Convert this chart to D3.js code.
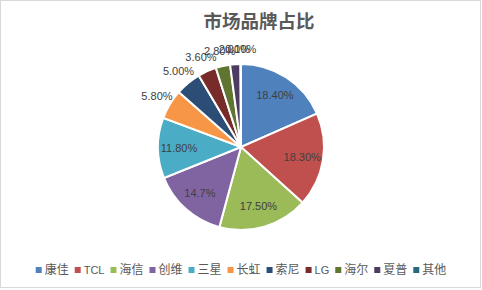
<!DOCTYPE html>
<html>
<head>
<meta charset="utf-8">
<script src="https://cdn.jsdelivr.net/npm/d3@7"></script>
<style>
  body { margin: 0; background: #fff; }
  svg { display: block; }
</style>
</head>
<body>
<div id="chart"></div>
<script>
const brands = ['康佳', 'TCL', '海信', '创维', '三星', '长虹', '索尼', 'LG', '海尔', '夏普', '其他'];
const shares = [18.4, 18.3, 17.5, 14.7, 11.8, 5.8, 5.0, 3.6, 2.8, 2.0, 0.1];
const shareLabels = ['18.40%', '18.30%', '17.50%', '14.7%', '11.80%', '5.80%', '5.00%', '3.60%', '2.80%', '2.00%', '0.10%'];
const colors = ['#4F81BD', '#C0504D', '#9BBB59', '#8064A2', '#4BACC6', '#F79646',
                '#2C4D75', '#772C2A', '#5F7530', '#4D3B62', '#276A7C'];

const width = 482, height = 290;
const cx = 241, cy = 147, radius = 83;

const svg = d3.select('#chart')
  .append('svg')
  .attr('width', width)
  .attr('height', height);

// chart frame
svg.append('rect')
  .attr('x', 0.5).attr('y', 0.5)
  .attr('width', width - 2).attr('height', height - 3)
  .attr('fill', '#fff')
  .attr('stroke', '#d9d9d9');

svg.append('text')
  .attr('x', 259)
  .attr('y', 28)
  .attr('text-anchor', 'middle')
  .attr('font-family', '"Noto Sans CJK SC", sans-serif')
  .attr('font-weight', 'bold')
  .attr('font-size', '18.5px')
  .attr('fill', '#595959')
  .text('市场品牌占比');

const data = brands.map((b, i) => ({ name: b, value: shares[i], label: shareLabels[i], color: colors[i] }));

const pie = d3.pie().value(d => d.value).sort(null);
const arcs = pie(data);

const arc = d3.arc().innerRadius(0).outerRadius(radius);

const g = svg.append('g')
  .attr('transform', `translate(${cx},${cy})`);

g.selectAll('.slice')
  .data(arcs)
  .enter()
  .append('path')
  .attr('class', 'slice')
  .attr('d', arc)
  .attr('fill', d => d.data.color)
  .attr('stroke', '#fff')
  .attr('stroke-width', 2);

// small slices get their label outside
const inner = d3.arc().innerRadius(62).outerRadius(62);
const outer = d3.arc().innerRadius(98).outerRadius(98);

g.selectAll('.slice-label')
  .data(arcs)
  .enter()
  .append('text')
  .attr('class', 'slice-label')
  .attr('transform', d => `translate(${(d.data.value > 10 ? inner : outer).centroid(d)})`)
  .attr('dy', '0.35em')
  .attr('text-anchor', 'middle')
  .attr('font-family', '"Liberation Sans Narrow", "Liberation Sans", sans-serif')
  .attr('font-size', '11px')
  .attr('fill', '#404040')
  .text(d => d.data.label);

// legend
const legend = svg.append('g').attr('class', 'legend');
const items = legend.selectAll('g')
  .data(data)
  .enter()
  .append('g');

items.append('rect')
  .attr('width', 6)
  .attr('height', 6)
  .attr('y', -3)
  .attr('fill', d => d.color);

items.append('text')
  .attr('x', 9)
  .attr('dy', '0.35em')
  .attr('font-family', d => /^[A-Z]+$/.test(d.name) ? '"Liberation Sans Narrow", sans-serif' : '"Noto Sans CJK SC", sans-serif')
  .attr('font-size', d => /^[A-Z]+$/.test(d.name) ? '11px' : '12px')
  .attr('fill', '#595959')
  .text(d => d.name);

let xPos = 0;
items.each(function() {
  const w = d3.select(this).select('text').node().getComputedTextLength();
  d3.select(this).attr('transform', `translate(${xPos},0)`);
  xPos += 9 + w + 6;
});
const total = xPos - 6;
legend.attr('transform', `translate(${cx - total / 2},270)`);
</script>
</body>
</html>
